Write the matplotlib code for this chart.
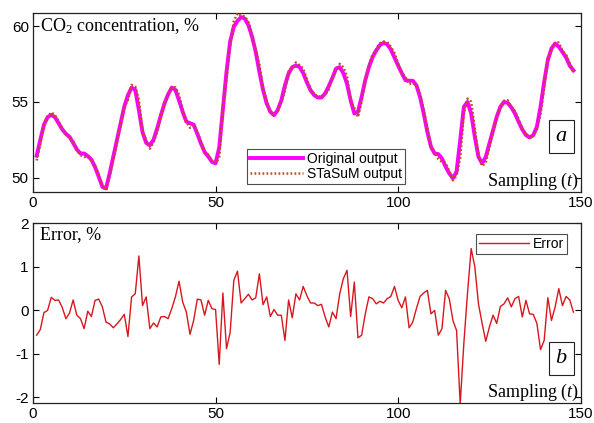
import matplotlib
matplotlib.use("Agg")
import matplotlib.pyplot as plt
import numpy as np

plt.rcParams["mathtext.fontset"] = "custom"
plt.rcParams["mathtext.rm"] = "Liberation Serif"
plt.rcParams["mathtext.it"] = "Liberation Serif:italic"
plt.rcParams["axes.unicode_minus"] = False

sampling = list(range(1, 149))

original_output = [
    51.45, 52.5, 53.5, 54.0, 54.15, 54.0, 53.6, 53.2, 52.9, 52.7,
    52.3, 51.87, 51.6, 51.6, 51.43, 51.2, 50.7, 50.07, 49.4, 49.3,
    50.3, 51.4, 52.5, 53.6, 54.7, 55.45, 55.95, 55.8, 54.46, 53.0,
    52.3, 52.15, 52.5, 53.25, 54.1, 54.9, 55.5, 55.95, 55.8, 55.1,
    54.35, 53.7, 53.6, 53.5, 52.9, 52.26, 51.7, 51.4, 51.05, 50.95,
    52.0, 54.5, 57.0, 59.0, 59.96, 60.35, 60.6, 60.5, 60.07, 59.3,
    58.3, 57.0, 55.8, 54.9, 54.35, 54.13, 54.46, 55.1, 56.1, 56.88,
    57.3, 57.4, 57.3, 56.9, 56.3, 55.77, 55.45, 55.29, 55.29, 55.56,
    56.04, 56.6, 57.2, 57.3, 56.9, 56.2, 55.1, 54.24, 54.35, 55.34,
    56.44, 57.3, 57.96, 58.4, 58.75, 58.9, 58.8, 58.46, 57.93, 57.4,
    56.9, 56.44, 56.4, 56.4, 56.1, 55.34, 54.24, 53.03, 52.04, 51.6,
    51.56, 51.27, 50.73, 50.29, 49.96, 50.4, 52.48, 54.68, 55.0, 54.24,
    52.7, 51.38, 50.95, 51.38, 52.26, 53.14, 54.02, 54.68, 55.0, 54.95,
    54.64, 54.24, 53.69, 53.19, 52.81, 52.66, 52.81, 53.36, 54.68, 56.33,
    57.76, 58.53, 58.86, 58.64, 58.3, 57.93, 57.4, 57.08,
]

stasum_output = [
    51.14, 52.26, 53.47, 54.0, 54.32, 54.13, 53.73, 53.24, 52.8, 52.67,
    52.43, 51.81, 51.5, 51.37, 51.42, 51.12, 50.83, 50.21, 49.44, 49.15,
    50.13, 51.18, 52.33, 53.48, 54.65, 55.12, 56.12, 56.01, 55.15, 53.06,
    52.47, 51.92, 52.34, 53.04, 54.02, 54.82, 55.4, 55.97, 55.97, 55.47,
    54.45, 53.68, 53.3, 53.37, 53.04, 52.39, 51.64, 51.53, 51.07, 50.96,
    51.32, 54.72, 56.51, 58.72, 60.34, 60.85, 60.69, 60.65, 60.27, 59.43,
    58.46, 57.46, 55.87, 55.07, 54.27, 54.14, 54.4, 55.04, 55.72, 57.01,
    57.21, 57.61, 57.43, 57.2, 56.49, 55.86, 55.54, 55.35, 55.37, 55.48,
    55.83, 56.58, 57.1, 57.51, 57.3, 56.71, 55.02, 54.6, 54.0, 55.03,
    56.4, 57.47, 58.11, 58.48, 58.87, 58.99, 58.95, 58.64, 58.23, 57.53,
    56.93, 56.61, 56.18, 56.25, 56.12, 55.52, 54.46, 53.28, 52.0, 51.6,
    51.25, 51.04, 50.98, 50.44, 49.83, 50.15, 51.3, 54.27, 55.22, 55.02,
    53.25, 51.46, 50.78, 50.99, 52.05, 53.08, 53.85, 54.73, 55.08, 55.11,
    54.68, 54.39, 53.87, 53.11, 52.94, 52.62, 52.76, 53.19, 54.18, 55.95,
    57.92, 58.4, 58.9, 58.92, 58.36, 58.11, 57.53, 57.06,
]

error = [
    -0.57, -0.44, -0.05, 0.0, 0.30, 0.23, 0.24, 0.07, -0.19, -0.06,
    0.24, -0.11, -0.19, -0.42, -0.02, -0.14, 0.23, 0.26, 0.08, -0.27,
    -0.31, -0.40, -0.31, -0.21, -0.09, -0.60, 0.31, 0.38, 1.25, 0.11,
    0.31, -0.42, -0.29, -0.38, -0.15, -0.14, -0.19, 0.04, 0.31, 0.67,
    0.19, -0.04, -0.55, -0.23, 0.26, 0.24, -0.11, 0.23, 0.04, 0.02,
    -1.24, 0.40, -0.88, -0.50, 0.69, 0.90, 0.17, 0.27, 0.37, 0.24,
    0.29, 0.84, 0.13, 0.31, -0.14, 0.02, -0.11, -0.11, -0.69, 0.24,
    -0.17, 0.38, 0.24, 0.55, 0.34, 0.17, 0.17, 0.11, 0.14, -0.15,
    -0.38, -0.04, -0.19, 0.38, 0.73, 0.92, -0.14, 0.65, -0.63, -0.57,
    -0.08, 0.31, 0.27, 0.15, 0.21, 0.17, 0.27, 0.32, 0.55, 0.23,
    0.06, 0.31, -0.40, -0.27, 0.04, 0.32, 0.40, 0.46, -0.08, 0.0,
    -0.57, -0.42, 0.46, 0.27, -0.23, -0.46, -2.15, -0.75, 0.40, 1.42,
    1.00, 0.15, -0.30, -0.71, -0.38, -0.11, -0.30, 0.09, 0.15, 0.29,
    0.08, 0.27, 0.32, -0.15, 0.23, -0.08, -0.09, -0.30, -0.90, -0.69,
    0.29, -0.23, 0.08, 0.50, 0.11, 0.32, 0.24, -0.04,
]

x_ticks = [0, 50, 100, 150]
top_yticks = [50, 55, 60]
bottom_yticks = [-2, -1, 0, 1, 2]

W, H = 594, 423
fig = plt.figure(figsize=(W / 100, H / 100), dpi=100)

sans = ["Liberation Sans", "DejaVu Sans"]
serif = ["Liberation Serif", "DejaVu Serif"]
TICK = 11
LABEL = 13

def px_axes(x0, y0, x1, y1):
    return fig.add_axes([x0 / W, 1 - y1 / H, (x1 - x0) / W, (y1 - y0) / H])

ax1 = px_axes(33, 13.3, 580.7, 191.7)
ax2 = px_axes(33, 223.3, 580.7, 402.7)

def style(ax):
    ax.set_xlim(0, 149.6)
    ax.set_xticks(x_ticks)
    ax.tick_params(direction="in", top=True, right=True, length=4, width=0.8,
                   labelsize=TICK, pad=3)
    for lab in ax.get_xticklabels() + ax.get_yticklabels():
        lab.set_family(sans)
    for s in ax.spines.values():
        s.set_linewidth(0.9)
        s.set_color("#222222")

# top panel
ax1.plot(sampling, original_output, color="#FF00FF", lw=2.8, label="Original output",
         solid_joinstyle="round", zorder=2)
ax1.plot(sampling, stasum_output, color="#B8501E", lw=1.8, linestyle=(0, (0.7, 0.9)),
         label="STaSuM output", zorder=3)
ax1.set_ylim(49.08, 60.85)
ax1.set_yticks(top_yticks)
style(ax1)
ax1.text(0.012, 0.985, "CO$_2$ concentration, %", transform=ax1.transAxes,
         ha="left", va="top", fontsize=LABEL, family=serif)
ax1.text(0.997, 0.0, "Sampling ($\\mathit{t}$)", transform=ax1.transAxes,
         ha="right", va="bottom", fontsize=LABEL, family=serif)
ax1.text(0.965, 0.309, "$\\mathit{a}$", transform=ax1.transAxes, ha="center",
         va="center", fontsize=16, family=serif,
         bbox=dict(boxstyle="square,pad=0.3", fc="white", ec="#222222", lw=0.8))
leg1 = ax1.legend(loc="upper left", bbox_to_anchor=(0.391, 0.239), borderaxespad=0,
                  prop={"family": sans, "size": 10}, frameon=True, fancybox=False,
                  edgecolor="#222222", handlelength=3.8, handletextpad=0.3,
                  borderpad=0.2, labelspacing=0.1)
leg1.get_frame().set_linewidth(0.8)

# bottom panel
ax2.plot(sampling, error, color="#D9161E", lw=1.0, label="Error")
ax2.set_ylim(-2.12, 2.0)
ax2.set_yticks(bottom_yticks)
style(ax2)
ax2.text(0.012, 0.985, "Error, %", transform=ax2.transAxes,
         ha="left", va="top", fontsize=LABEL, family=serif)
ax2.text(0.997, 0.0, "Sampling ($\\mathit{t}$)", transform=ax2.transAxes,
         ha="right", va="bottom", fontsize=LABEL, family=serif)
ax2.text(0.965, 0.246, "$\\mathit{b}$", transform=ax2.transAxes, ha="center",
         va="center", fontsize=16, family=serif,
         bbox=dict(boxstyle="square,pad=0.3", fc="white", ec="#222222", lw=0.8))
leg2 = ax2.legend(loc="upper right", bbox_to_anchor=(0.975, 0.94), borderaxespad=0,
                  prop={"family": sans, "size": 10}, frameon=True, fancybox=False,
                  edgecolor="#222222", handlelength=3.6, handletextpad=0.3,
                  borderpad=0.2)
leg2.get_frame().set_linewidth(0.8)

fig.savefig("out.png", dpi=100)
